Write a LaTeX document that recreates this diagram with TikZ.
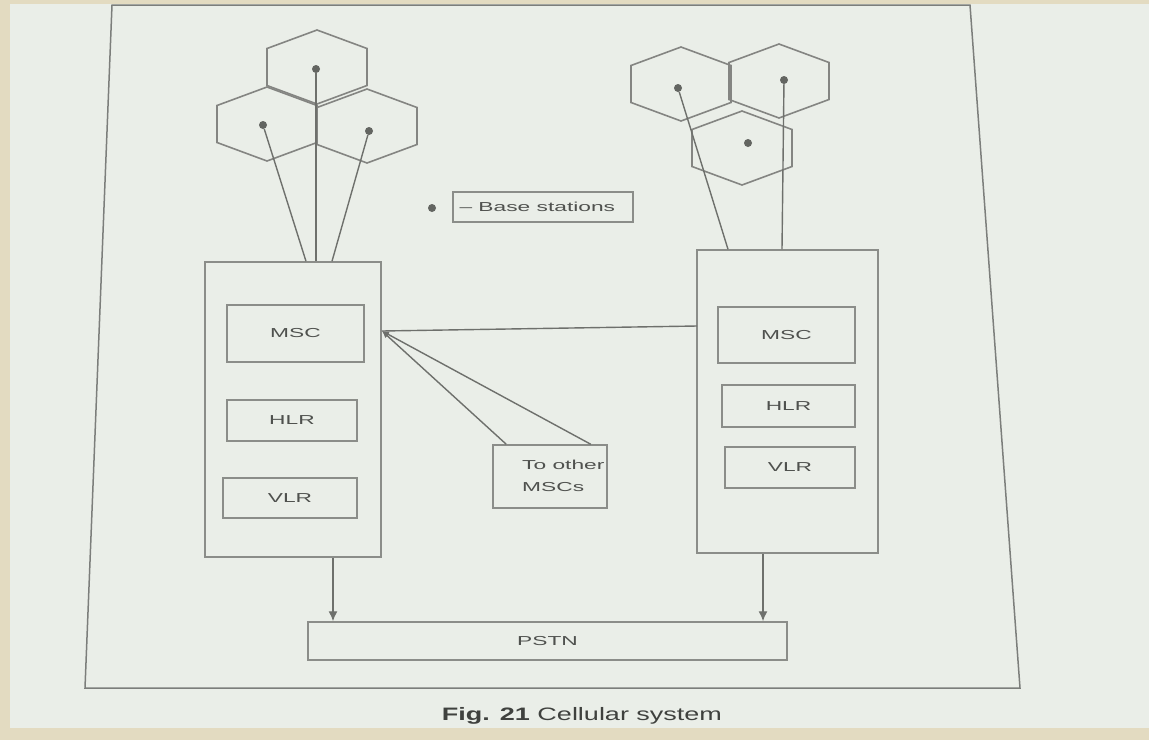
\documentclass[tikz,border=0pt]{standalone}
\usepackage{graphicx}
\usepackage{fontspec}
\setmainfont{Liberation Sans}
\usetikzlibrary{arrows.meta,calc}
\definecolor{beige}{HTML}{E3DBC1}
\definecolor{paper}{HTML}{EAEEE8}
\definecolor{ink}{HTML}{6E706C}
\definecolor{txt}{HTML}{4F514E}
\newcommand{\wlab}[1]{\scalebox{1.75}[1]{#1}}
\tikzset{
  cellline/.style={draw=ink!85, line width=1.6pt},
  hexcell/.pic={\draw[cellline] (0,-37)--(50,-18.5)--(50,18.5)--(0,37)--(-50,18.5)--(-50,-18.5)--cycle;},
  bsdot/.style={circle, fill=ink!90!black, inner sep=0pt, minimum size=8pt},
  bigbox/.style={draw=ink!80, line width=1.5pt, inner sep=0pt},
  unitbox/.style={draw=ink!80, line width=1.5pt, inner sep=0pt, text=txt, font=\fontsize{13}{15}\selectfont},
  lab/.style={text=txt, font=\fontsize{13}{15}\selectfont},
  link/.style={draw=ink, line width=1.4pt},
  arr/.style={link, -{Latex[length=10pt,width=9pt]}},
  smallarr/.style={link, -{Latex[length=7pt,width=6pt]}}
}
\begin{document}
\begin{tikzpicture}[x=1pt,y=-1pt]
% background
\fill[beige] (0,0) rectangle (1149,740);
\fill[paper] (10,4) rectangle (1149,728);
\useasboundingbox (0,0) rectangle (1149,740);
% page frame
\draw[ink!90, line width=1.5pt] (112,5) -- (970,5) -- (1020,688) -- (85,688) -- cycle;

% left cell cluster
\pic at (317,67) {hexcell};
\pic at (267,124) {hexcell};
\pic at (367,126) {hexcell};
\node[bsdot] (lb1) at (316,69) {};
\node[bsdot] (lb2) at (263,125) {};
\node[bsdot] (lb3) at (369,131) {};

% right cell cluster
\pic at (681,84) {hexcell};
\pic at (779,81) {hexcell};
\pic at (742,148) {hexcell};
\node[bsdot] (rb1) at (678,88) {};
\node[bsdot] (rb2) at (784,80) {};
\node[bsdot] (rb3) at (748,143) {};

% legend
\node[bsdot] (legdot) at (432,208) {};
\node[unitbox, minimum width=180pt, minimum height=30pt] (legbox) at (543,207) {};
\node[lab, anchor=west] (legtxt) at (456,207) {\wlab{– Base stations}};

% left switching centre
\node[bigbox, minimum width=176pt, minimum height=295pt] (lbox) at (293,409.5) {};
\node[unitbox, minimum width=137pt, minimum height=57pt] (lmsc) at (295.5,333.5) {\wlab{MSC}};
\node[unitbox, minimum width=130pt, minimum height=41pt] (lhlr) at (292,420.5) {\wlab{HLR}};
\node[unitbox, minimum width=134pt, minimum height=40pt] (lvlr) at (290,498) {\wlab{VLR}};

% right switching centre
\node[bigbox, minimum width=181pt, minimum height=303pt] (rbox) at (787.5,401.5) {};
\node[unitbox, minimum width=137pt, minimum height=56pt] (rmsc) at (786.5,335) {\wlab{MSC}};
\node[unitbox, minimum width=133pt, minimum height=42pt] (rhlr) at (788.5,406) {\wlab{HLR}};
\node[unitbox, minimum width=130pt, minimum height=41pt] (rvlr) at (790,467.5) {\wlab{VLR}};

% to other MSCs
\node[unitbox, minimum width=114pt, minimum height=63pt] (tomsc) at (550,476.5) {};
\node[lab, align=left, anchor=west, inner sep=0pt] (tomsctxt) at (522,476) {\wlab{To other}\\[7pt]\wlab{MSCs}};

% PSTN
\node[unitbox, minimum width=479pt, minimum height=38pt] (pstn) at (547.5,641) {\wlab{PSTN}};

% caption
\node[text=txt!80!black, font=\fontsize{18}{20}\selectfont] (cap) at (582,716) {\scalebox{1.5}[1]{\textbf{Fig. 21} Cellular system}};

% base station links
\draw[link] (lb2) -- ([xshift=13pt]lbox.north);
\draw[link] (lb1) -- ([xshift=23pt]lbox.north);
\draw[link] (lb3) -- ([xshift=39pt]lbox.north);
\draw[link] (rb1) -- ([xshift=-59.5pt]rbox.north);
\draw[link] (rb2) -- ([xshift=-5.5pt]rbox.north);

% inter-MSC links
\coordinate (junc) at (382,331);
\coordinate (rj) at (697,326);
\draw[link] (rj) -- (junc);
\draw[smallarr] ([xshift=14pt]tomsc.north west) -- (junc);
\draw[smallarr] ([xshift=-17pt]tomsc.north east) -- (junc);

% to PSTN
\draw[arr] ([xshift=40pt]lbox.south) -- ([xshift=40pt]lbox.south |- pstn.north);
\draw[arr] ([xshift=-24.5pt]rbox.south) -- ([xshift=-24.5pt]rbox.south |- pstn.north);
\end{tikzpicture}
\end{document}
